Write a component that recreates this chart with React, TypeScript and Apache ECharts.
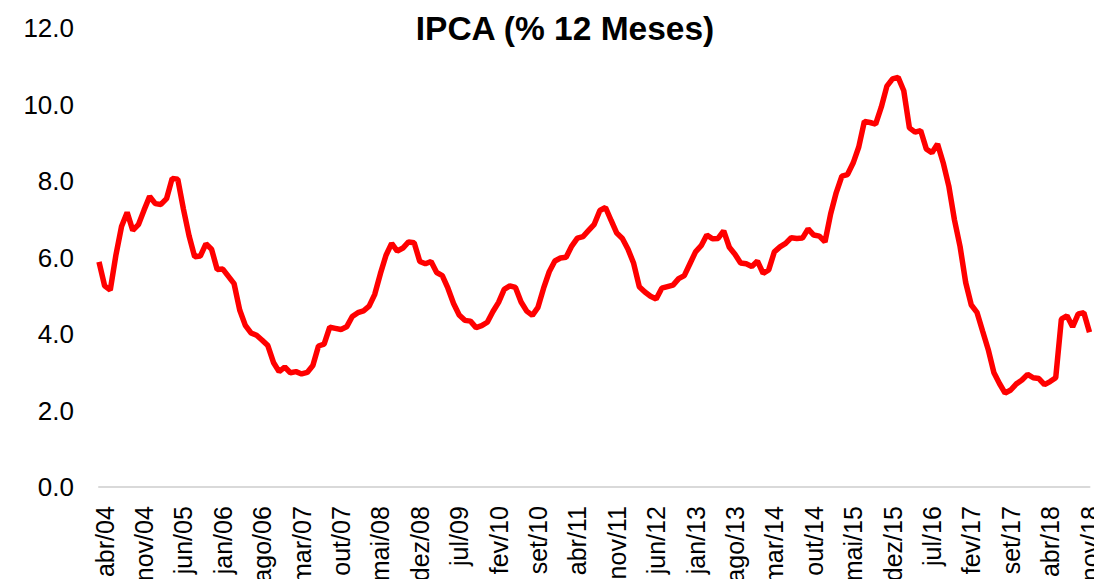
import React, { useEffect, useRef } from "react";
import * as echarts from "echarts";

const monthNames = ["jan", "fev", "mar", "abr", "mai", "jun", "jul", "ago", "set", "out", "nov", "dez"];

// Monthly categories: mar/04 .. nov/18
const categories: string[] = [];
for (let y = 2004; y <= 2018; y++) {
  for (let m = 0; m < 12; m++) {
    if (y === 2004 && m < 2) continue;
    if (y === 2018 && m > 10) continue;
    categories.push(`${monthNames[m]}/${String(y).slice(2)}`);
  }
}

const ipca2004 = [5.89, 5.26, 5.15, 6.06, 6.81, 7.18, 6.71, 6.86, 7.24, 7.6];
const ipca2005 = [7.41, 7.39, 7.54, 8.07, 8.05, 7.27, 6.57, 6.02, 6.04, 6.36, 6.22, 5.69];
const ipca2006 = [5.7, 5.51, 5.32, 4.63, 4.23, 4.03, 3.97, 3.84, 3.7, 3.26, 3.02, 3.14];
const ipca2007 = [2.99, 3.02, 2.96, 3.0, 3.18, 3.69, 3.74, 4.18, 4.15, 4.12, 4.19, 4.46];
const ipca2008 = [4.56, 4.61, 4.73, 5.04, 5.58, 6.06, 6.37, 6.17, 6.25, 6.41, 6.39, 5.9];
const ipca2009 = [5.84, 5.9, 5.61, 5.53, 5.2, 4.8, 4.5, 4.36, 4.34, 4.17, 4.22, 4.31];
const ipca2010 = [4.59, 4.83, 5.17, 5.26, 5.22, 4.84, 4.6, 4.49, 4.7, 5.2, 5.63, 5.91];
const ipca2011 = [5.99, 6.01, 6.3, 6.51, 6.55, 6.71, 6.87, 7.23, 7.31, 6.97, 6.64, 6.5];
const ipca2012 = [6.22, 5.85, 5.24, 5.1, 4.99, 4.92, 5.2, 5.24, 5.28, 5.45, 5.53, 5.84];
const ipca2013 = [6.15, 6.31, 6.59, 6.49, 6.5, 6.7, 6.27, 6.09, 5.86, 5.84, 5.77, 5.91];
const ipca2014 = [5.59, 5.68, 6.15, 6.28, 6.37, 6.52, 6.5, 6.51, 6.75, 6.59, 6.56, 6.41];
const ipca2015 = [7.14, 7.7, 8.13, 8.17, 8.47, 8.89, 9.56, 9.53, 9.49, 9.93, 10.48, 10.67];
const ipca2016 = [10.71, 10.36, 9.39, 9.28, 9.32, 8.84, 8.74, 8.97, 8.48, 7.87, 6.99, 6.29];
const ipca2017 = [5.35, 4.76, 4.57, 4.08, 3.6, 3.0, 2.71, 2.46, 2.54, 2.7, 2.8, 2.95];
const ipca2018 = [2.86, 2.84, 2.68, 2.76, 2.86, 4.39, 4.48, 4.19, 4.53, 4.56, 4.05];

const values = [
  ...ipca2004, ...ipca2005, ...ipca2006, ...ipca2007, ...ipca2008,
  ...ipca2009, ...ipca2010, ...ipca2011, ...ipca2012, ...ipca2013,
  ...ipca2014, ...ipca2015, ...ipca2016, ...ipca2017, ...ipca2018,
];

const FONT = "'Liberation Sans', Arial, sans-serif";

export default function App() {
  const ref = useRef<HTMLDivElement>(null);
  useEffect(() => {
    if (!ref.current) return;
    const chart = echarts.init(ref.current, null, { renderer: "svg" });
    chart.setOption({
      animation: false,
      backgroundColor: "#ffffff",
      title: {
        text: "IPCA (% 12 Meses)",
        left: 560,
        top: 6,
        textAlign: "center",
        textStyle: { fontFamily: FONT, fontSize: 33.5, fontWeight: "bold", color: "#000" },
      },
      grid: { left: 99, right: 10, top: 28, bottom: 98, containLabel: false },
      xAxis: {
        type: "category",
        data: categories,
        boundaryGap: false,
        axisLine: { lineStyle: { color: "#d9d9d9", width: 2 } },
        axisTick: { show: false },
        axisLabel: {
          interval: (i: number) => i % 7 === 1,
          rotate: 90,
          margin: 19,
          fontFamily: FONT,
          fontSize: 25,
          color: "#000",
        },
      },
      yAxis: {
        type: "value",
        min: 0,
        max: 12,
        interval: 2,
        axisLine: { show: false },
        axisTick: { show: false },
        splitLine: { show: false },
        axisLabel: {
          formatter: (v: number) => v.toFixed(1),
          margin: 25,
          fontFamily: FONT,
          fontSize: 26,
          color: "#000",
        },
      },
      series: [
        {
          type: "line",
          data: values,
          showSymbol: false,
          symbol: "none",
          lineStyle: { color: "#ff0000", width: 5.5 },
        },
      ],
    });
    return () => chart.dispose();
  }, []);
  return <div ref={ref} style={{ width: 1102, height: 587, margin: -8 }} />;
}
